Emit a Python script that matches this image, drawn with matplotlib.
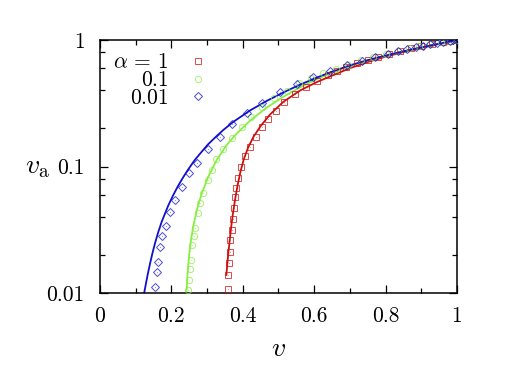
import matplotlib
matplotlib.use("Agg")
import matplotlib.pyplot as plt
from matplotlib.ticker import FixedLocator, LogLocator, MultipleLocator, NullFormatter, FixedFormatter

plt.rcParams["font.family"] = "cmr10"
plt.rcParams["mathtext.fontset"] = "cm"
plt.rcParams["axes.formatter.use_mathtext"] = True

# theory curves (lines)
v_line_1 = [0.354, 0.357, 0.360, 0.364, 0.368, 0.373, 0.379, 0.386, 0.394, 0.403, 0.415, 0.430,
            0.450, 0.476, 0.513, 0.560, 0.607, 0.653, 0.70, 0.75, 0.80, 0.85, 0.90, 0.95, 1.0]
va_line_1 = [0.0139, 0.0174, 0.0214, 0.0272, 0.0343, 0.0437, 0.0562, 0.0724, 0.0923, 0.1148,
             0.1413, 0.1718, 0.2089, 0.2570, 0.3236, 0.3981, 0.4645, 0.5272, 0.5984, 0.6699,
             0.7379, 0.8017, 0.8670, 0.9311, 1.0]

v_line_01 = [0.242, 0.243, 0.245, 0.247, 0.250, 0.255, 0.261, 0.271, 0.285, 0.303, 0.327, 0.355,
             0.378, 0.420, 0.467, 0.513, 0.560, 0.607, 0.653, 0.70, 0.75, 0.80, 0.85, 0.90, 0.95,
             1.0]
va_line_01 = [0.00957, 0.0110, 0.0138, 0.0165, 0.0203, 0.0264, 0.0334, 0.0451, 0.0612, 0.0828,
              0.1127, 0.148, 0.176, 0.230, 0.292, 0.355, 0.422, 0.490, 0.556, 0.622, 0.689, 0.751,
              0.812, 0.873, 0.935, 1.0]

v_line_001 = [0.121, 0.123, 0.126, 0.133, 0.140, 0.147, 0.154, 0.163, 0.173, 0.191, 0.205, 0.219,
              0.233, 0.247, 0.265, 0.283, 0.302, 0.322, 0.345, 0.373, 0.420, 0.467, 0.513, 0.560,
              0.607, 0.653, 0.70, 0.75, 0.80, 0.85, 0.90, 0.95, 1.0]
va_line_001 = [0.0091, 0.00977, 0.01084, 0.01374, 0.0170, 0.0207, 0.0247, 0.0302, 0.0367, 0.049,
               0.0593, 0.0705, 0.0822, 0.0948, 0.112, 0.129, 0.149, 0.169, 0.194, 0.225, 0.277,
               0.330, 0.384, 0.443, 0.504, 0.566, 0.630, 0.693, 0.753, 0.813, 0.873, 0.935, 1.0]

# simulation points
v_pts_1 = [0.358, 0.359, 0.361, 0.363, 0.365, 0.369, 0.372, 0.375, 0.378, 0.382, 0.387, 0.395,
           0.405, 0.420, 0.437, 0.453, 0.471, 0.493, 0.515, 0.546, 0.577, 0.607, 0.639, 0.663,
           0.69, 0.72, 0.75, 0.78, 0.81, 0.84, 0.87, 0.90, 0.93, 0.96, 0.98, 1.0]
va_pts_1 = [0.0107, 0.0139, 0.0172, 0.0212, 0.0262, 0.0315, 0.0383, 0.0468, 0.0577, 0.0673,
            0.0807, 0.0996, 0.121, 0.143, 0.170, 0.204, 0.237, 0.276, 0.322, 0.374, 0.423, 0.477,
            0.529, 0.572, 0.61, 0.655, 0.70, 0.74, 0.78, 0.82, 0.86, 0.90, 0.935, 0.965, 0.985, 1.0]

v_pts_01 = [0.247, 0.249, 0.252, 0.255, 0.259, 0.262, 0.266, 0.274, 0.280, 0.289, 0.302, 0.313,
            0.324, 0.345, 0.369, 0.397, 0.422, 0.453, 0.487, 0.525, 0.558, 0.59, 0.625, 0.66,
            0.695, 0.73, 0.765, 0.80, 0.835, 0.865, 0.895, 0.925, 0.955, 0.98, 1.0]
va_pts_01 = [0.0106, 0.0127, 0.0154, 0.0182, 0.0239, 0.0282, 0.0325, 0.0427, 0.0517, 0.0621,
             0.0782, 0.0938, 0.114, 0.137, 0.167, 0.204, 0.245, 0.294, 0.346, 0.397, 0.455, 0.50,
             0.55, 0.595, 0.64, 0.69, 0.735, 0.78, 0.82, 0.86, 0.895, 0.93, 0.96, 0.985, 1.0]

v_pts_001 = [0.154, 0.159, 0.163, 0.168, 0.175, 0.184, 0.196, 0.210, 0.229, 0.249, 0.271, 0.302,
             0.336, 0.369, 0.411, 0.453, 0.504, 0.551, 0.597, 0.644, 0.691, 0.733, 0.770, 0.808,
             0.836, 0.861, 0.885, 0.906, 0.924, 0.943, 0.962, 0.98, 0.99, 1.0]
va_pts_001 = [0.0112, 0.0147, 0.0177, 0.0230, 0.0282, 0.0339, 0.0440, 0.0543, 0.0692, 0.0883,
              0.107, 0.137, 0.172, 0.217, 0.266, 0.319, 0.390, 0.449, 0.513, 0.572, 0.635, 0.685,
              0.73, 0.78, 0.815, 0.845, 0.875, 0.90, 0.925, 0.95, 0.97, 0.985, 0.995, 1.0]

labels = [r"$\alpha\,=\,1$", r"$0.1$", r"$0.01$"]
x_ticks = [0, 0.2, 0.4, 0.6, 0.8, 1]
x_tick_labels = ["0", "0.2", "0.4", "0.6", "0.8", "1"]
y_ticks = [0.01, 0.1, 1]
y_tick_labels = ["0.01", "0.1", "1"]

RED = "#cc1010"
GREEN = "#88ee44"
BLUE = "#1010cc"

fig = plt.figure(figsize=(5.19, 3.86), dpi=100)
ax = fig.add_axes([0.1927, 0.2409, 0.6878, 0.6555])

series = [
    (v_line_1, va_line_1, v_pts_1, va_pts_1, RED, "s", 4.0),
    (v_line_01, va_line_01, v_pts_01, va_pts_01, GREEN, "o", 4.5),
    (v_line_001, va_line_001, v_pts_001, va_pts_001, BLUE, "D", 3.8),
]
handles = []
for (vl, val, vp, vap, c, m, ms) in series:
    ax.plot(vl, val, color=c, lw=1.3, zorder=2)
    h, = ax.plot(vp, vap, ls="none", marker=m, ms=ms, mfc="none", mec=c, mew=0.7,
                 alpha=0.75, zorder=3)
    ax.plot(vp, vap, ls="none", marker=".", ms=1.0, mew=0, color=c, alpha=0.6, zorder=3)
    handles.append(h)

ax.set_yscale("log")
ax.set_xlim(0, 1)
ax.set_ylim(0.01, 1)

ax.xaxis.set_major_locator(FixedLocator(x_ticks))
ax.xaxis.set_major_formatter(FixedFormatter(x_tick_labels))
ax.xaxis.set_minor_locator(MultipleLocator(0.1))
ax.yaxis.set_major_locator(FixedLocator(y_ticks))
ax.yaxis.set_major_formatter(FixedFormatter(y_tick_labels))
ax.yaxis.set_minor_locator(LogLocator(base=10, subs=(2, 4, 6, 8)))
ax.yaxis.set_minor_formatter(NullFormatter())

ax.tick_params(which="both", direction="in", top=True, right=True, labelsize=15.5, colors="black")
ax.tick_params(which="major", length=6, width=0.9)
ax.tick_params(which="minor", length=3.5, width=0.9)
ax.tick_params(axis="x", which="major", pad=10)
ax.tick_params(axis="y", which="major", pad=11)
for s in ax.spines.values():
    s.set_linewidth(1.1)

ax.set_xlabel(r"$v$", fontsize=20)
ax.xaxis.set_label_coords(0.5, -0.17)
ax.set_ylabel(r"$v_{\rm a}$", fontsize=20, rotation=0, ha="center", va="center")
ax.yaxis.set_label_coords(-0.175, 0.5)

leg = ax.legend(handles, labels, loc="upper left", bbox_to_anchor=(0.0, 1.0),
                frameon=False, markerfirst=False, numpoints=1, handlelength=1.0,
                handletextpad=0.9, labelspacing=-0.08, fontsize=15.5, borderaxespad=0.2)

fig.savefig("out.png", dpi=100)
